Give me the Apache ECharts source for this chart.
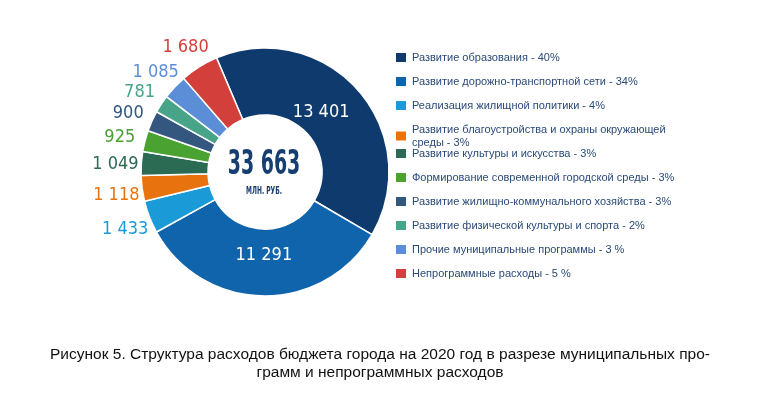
<!DOCTYPE html>
<html>
<head>
<meta charset="utf-8">
<script src="https://cdn.jsdelivr.net/npm/echarts@6/dist/echarts.min.js"></script>
<style>
  html, body { margin: 0; padding: 0; background: #fff; }
  #chart { width: 760px; height: 397px; }
</style>
</head>
<body>
<div id="chart"></div>
<script>
// Структура расходов бюджета, млн руб.
var categories = [
  'Развитие образования - 40%',
  'Развитие дорожно-транспортной сети - 34%',
  'Реализация жилищной политики - 4%',
  'Развитие благоустройства и охраны окружающей\nсреды - 3%',
  'Развитие культуры и искусства - 3%',
  'Формирование современной городской среды - 3%',
  'Развитие жилищно-коммунального хозяйства - 3%',
  'Развитие физической культуры и спорта - 2%',
  'Прочие муниципальные программы - 3 %',
  'Непрограммные расходы - 5 %'
];
var values = [13401, 11291, 1433, 1118, 1049, 925, 900, 781, 1085, 1680];
var colors = ['#0e3a6e', '#0f64ab', '#1b9ad8', '#e8730e', '#2b6b53', '#4aa231',
              '#33577f', '#47a488', '#5b8ed6', '#d33f3b'];
var totalUnit = 'МЛН. РУБ.';

function fmt(v) {
  return String(v).replace(/\B(?=(\d{3})+(?!\d))/g, ' ');
}

var total = values.reduce(function (a, b) { return a + b; }, 0);
var numFont = '"DejaVu Sans Condensed", "DejaVu Sans", sans-serif';
var textFont = '"Liberation Sans", Arial, sans-serif';

var pieData = values.map(function (v, i) {
  var item = { name: categories[i], value: v, itemStyle: { color: colors[i] } };
  if (i < 2) {
    item.label = { position: 'inside', color: '#fff' };
  } else {
    item.label = { color: colors[i] };
  }
  return item;
});

var chart = echarts.init(document.getElementById('chart'), null, { renderer: 'canvas' });
chart.setOption({
  animation: false,
  title: {
    text: 'Рисунок 5. Структура расходов бюджета города на 2020 год в разрезе муниципальных про-\nграмм и непрограммных расходов',
    left: 'center', top: 346, padding: 0,
    textStyle: { fontFamily: textFont, fontSize: 15.5, fontWeight: 'normal', color: '#111', lineHeight: 18 }
  },
  // итог в центре кольца (узкий шрифт имитируем масштабом по X)
  graphic: [{
    type: 'text', x: 264, y: 165, scaleX: 0.62,
    style: { text: fmt(total), font: 'bold 34px ' + numFont, fill: '#163e70', align: 'center', verticalAlign: 'middle' }
  }, {
    type: 'text', x: 264, y: 191, scaleX: 0.6,
    style: { text: totalUnit, font: 'bold 11px ' + numFont, fill: '#163e70', align: 'center', verticalAlign: 'middle' }
  }],
  legend: [{
    orient: 'vertical', left: 394, top: 51, padding: 0,
    itemWidth: 12, itemHeight: 11, itemGap: 11, icon: 'rect',
    selectedMode: false,
    data: categories.slice(0, 4),
    textStyle: { fontFamily: textFont, fontSize: 11, color: '#2a4a78', lineHeight: 13 }
  }, {
    orient: 'vertical', left: 394, top: 147, padding: 0,
    itemWidth: 12, itemHeight: 11, itemGap: 11, icon: 'rect',
    selectedMode: false,
    data: categories.slice(4),
    textStyle: { fontFamily: textFont, fontSize: 11, color: '#2a4a78', lineHeight: 13 }
  }],
  series: [{
    type: 'pie',
    center: [265, 172],
    radius: [57, 124],
    startAngle: 113,
    clockwise: true,
    avoidLabelOverlap: false,
    itemStyle: { borderColor: '#fff', borderWidth: 1.5 },
    label: {
      position: 'outside',
      distanceToLabelLine: 0,
      fontFamily: numFont,
      fontSize: 18,
      formatter: function (p) { return fmt(p.value); }
    },
    labelLine: { show: false, length: 26, length2: 0 },
    labelLayout: function (p) {
      // подписи крупных секторов чуть ближе к центру, как в оригинале
      var o = { align: 'center', verticalAlign: 'middle', hideOverlap: false };
      if (p.dataIndex === 0) { o.dx = -14; o.dy = 2; }
      if (p.dataIndex === 1) { o.dy = -10; }
      if (p.dataIndex > 1) { o.dy = 3; }
      return o;
    },
    emphasis: { disabled: true },
    data: pieData
  }]
});
</script>
</body>
</html>
